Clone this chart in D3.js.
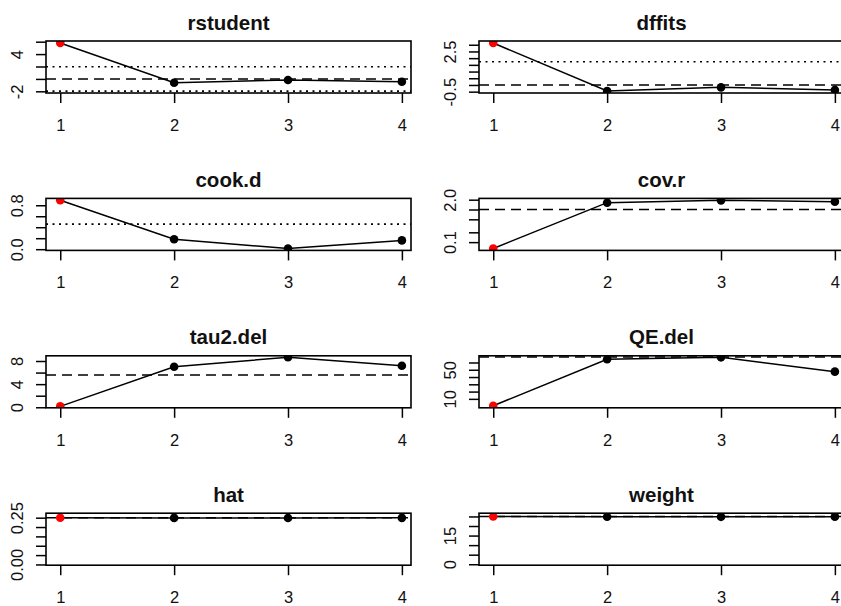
<!doctype html>
<html>
<head>
    <style>
        body { margin: 0; background: #fff; }
        svg { display: block; font-family: "Liberation Sans", Arial, sans-serif; }
        .title { font-weight: bold; font-size: 20.5px; fill: #111; }
        .tick text { font-size: 16.5px; fill: #111; }
        .tick line { stroke: #000; stroke-width: 1.5; }
</style>
    <script src="https://d3js.org/d3.v7.min.js"></script>
</head>
<body>

<svg width="841" height="606"></svg>
<script>

    // study number and the diagnostics
    var studies = [1, 2, 3, 4];
    var influential = [true, false, false, false];

    var rstudent = [5.8, -0.61, -0.18, -0.45];
    var dffits   = [3.13, -0.45, -0.18, -0.37];
    var cookD    = [0.89, 0.18, 0.013, 0.16];
    var covR     = [0.064, 1.62, 1.91, 1.74];
    var tau2Del  = [0.15, 7.01, 8.64, 7.19];
    var qeDel    = [0.5, 64.4, 67.1, 47.4];
    var hat      = [0.25, 0.2488, 0.2485, 0.2492];
    var weight   = [25, 24.85, 24.8, 24.9];

    // tick values and which of them carry a label
    var rstudentTicks = [-2, 0, 2, 4, 6],             rstudentLabels = {"-2": "-2", "4": "4"};
    var dffitsTicks   = [-0.5, 0, 0.5, 1, 1.5, 2, 2.5, 3], dffitsLabels = {"-0.5": "-0.5", "2.5": "2.5"};
    var cookTicks     = [0, 0.2, 0.4, 0.6, 0.8],       cookLabels = {"0": "0.0", "0.8": "0.8"};
    var covTicks      = [0.1, 0.2, 0.5, 1, 2],         covLabels = {"0.1": "0.1", "2": "2.0"};
    var tau2Ticks     = [0, 2, 4, 6, 8],               tau2Labels = {"0": "0", "4": "4", "8": "8"};
    var qeTicks       = [10, 20, 30, 40, 50, 60],      qeLabels = {"10": "10", "50": "50"};
    var hatTicks      = [0, 0.05, 0.1, 0.15, 0.2, 0.25], hatLabels = {"0": "0.00", "0.25": "0.25"};
    var weightTicks   = [0, 5, 10, 15, 20, 25],        weightLabels = {"0": "0", "15": "15"};

    // reference lines
    var rstudentDotted = [-1.96, 1.96], rstudentDashed = [0];
    var dffitsDotted = [1.732], dffitsDashed = [0];
    var cookDotted = [0.455];
    var covDashed = [1];
    var tau2Dashed = [5.58];
    var qeDashed = [67.5];
    var hatDashed = [0.25];
    var weightDashed = [25];

    var panels = [
        {title: "rstudent", values: rstudent, domain: [-2.27, 6.11], ticks: rstudentTicks, labels: rstudentLabels, dotted: rstudentDotted, dashed: rstudentDashed},
        {title: "dffits",   values: dffits,   domain: [-0.6, 3.28],  ticks: dffitsTicks,   labels: dffitsLabels,   dotted: dffitsDotted,   dashed: dffitsDashed},
        {title: "cook.d",   values: cookD,    domain: [-0.022, 0.925], ticks: cookTicks,   labels: cookLabels,     dotted: cookDotted,     dashed: []},
        {title: "cov.r",    values: covR,     domain: [0.0558, 2.19], ticks: covTicks,     labels: covLabels,      dotted: [],             dashed: covDashed, log: true},
        {title: "tau2.del", values: tau2Del,  domain: [-0.09, 8.9],  ticks: tau2Ticks,     labels: tau2Labels,     dotted: [],             dashed: tau2Dashed},
        {title: "QE.del",   values: qeDel,    domain: [-2.3, 69.2],  ticks: qeTicks,       labels: qeLabels,       dotted: [],             dashed: qeDashed},
        {title: "hat",      values: hat,      domain: [-0.004, 0.274], ticks: hatTicks,    labels: hatLabels,      dotted: [],             dashed: hatDashed},
        {title: "weight",   values: weight,   domain: [-0.5, 26.7],  ticks: weightTicks,   labels: weightLabels,   dotted: [],             dashed: weightDashed}
    ];

    var svg = d3.select("svg");
    svg.append("rect").attr("width", 841).attr("height", 606).attr("fill", "#fff");

    var colLeft = [46, 479],
        boxW = 365,
        boxH = 52,
        rowTop = 41,
        rowStep = 157.4;

    panels.forEach(function(p, i) {
        var col = i % 2,
            row = Math.floor(i / 2),
            left = colLeft[col],
            top = rowTop + row * rowStep;

        var x = d3.scaleLinear().domain([0.875, 4.08]).range([left, left + boxW]);
        var y = (p.log ? d3.scaleLog() : d3.scaleLinear()).domain(p.domain).range([top + boxH, top]);

        var g = svg.append("g");

        var clipId = "clip" + i;
        g.append("clipPath").attr("id", clipId)
         .append("rect")
         .attr("x", left).attr("y", top)
         .attr("width", boxW).attr("height", boxH);

        var inner = g.append("g").attr("clip-path", "url(#" + clipId + ")");

        // reference lines
        p.dotted.forEach(function(v) {
            inner.append("line")
                 .attr("x1", left).attr("x2", left + boxW)
                 .attr("y1", y(v)).attr("y2", y(v))
                 .attr("stroke", "#000").attr("stroke-width", 1.7)
                 .attr("stroke-dasharray", "2,4.5");
        });
        p.dashed.forEach(function(v) {
            inner.append("line")
                 .attr("x1", left).attr("x2", left + boxW)
                 .attr("y1", y(v)).attr("y2", y(v))
                 .attr("stroke", "#000").attr("stroke-width", 1.5)
                 .attr("stroke-dasharray", "10,6");
        });

        var line = d3.line()
            .x(function(d, j) { return x(studies[j]); })
            .y(function(d) { return y(d); });

        inner.append("path")
             .datum(p.values)
             .attr("d", line)
             .attr("fill", "none")
             .attr("stroke", "#000")
             .attr("stroke-width", 1.5);

        inner.selectAll("circle")
             .data(p.values)
             .enter().append("circle")
             .attr("cx", function(d, j) { return x(studies[j]); })
             .attr("cy", function(d) { return y(d); })
             .attr("r", 4.3)
             .attr("fill", function(d, j) { return influential[j] ? "#ff0000" : "#000"; });

        // axes
        var yAxis = g.append("g")
            .attr("transform", "translate(" + left + ",0)")
            .call(d3.axisLeft(y).tickValues(p.ticks).tickSize(10)
                .tickFormat(function(d) { return p.labels[String(d)] || ""; }));
        yAxis.select(".domain").remove();
        yAxis.selectAll("text")
             .attr("x", null).attr("dy", null)
             .attr("transform", "translate(-23,0) rotate(-90)")
             .attr("text-anchor", "middle")
             .attr("font-size", null).attr("font-family", null);

        var xAxis = g.append("g")
            .attr("transform", "translate(0," + (top + boxH) + ")")
            .call(d3.axisBottom(x).tickValues(studies).tickSize(10).tickFormat(d3.format("d")));
        xAxis.select(".domain").remove();
        xAxis.selectAll("text")
             .attr("y", 38).attr("dy", null)
             .attr("font-size", null).attr("font-family", null);

        // frame
        g.append("rect")
         .attr("x", left).attr("y", top)
         .attr("width", boxW).attr("height", boxH)
         .attr("fill", "none")
         .attr("stroke", "#000")
         .attr("stroke-width", 1.6);

        g.append("text")
         .attr("class", "title")
         .attr("x", left + boxW / 2)
         .attr("y", top - 11.5)
         .attr("text-anchor", "middle")
         .text(p.title);
    });

</script>
</body>
</html>
